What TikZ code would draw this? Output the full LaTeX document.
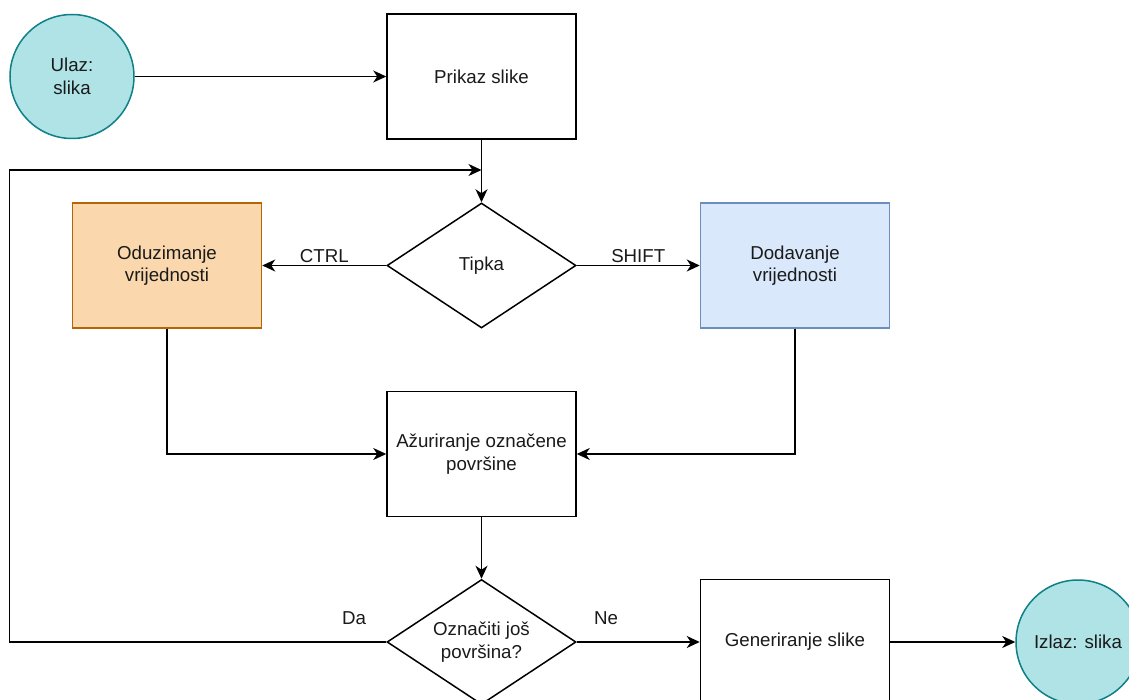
\documentclass[tikz,border=0pt]{standalone}
\usepackage{fontspec}
\setmainfont{Liberation Sans}
\usetikzlibrary{arrows.meta,shapes.geometric}
\definecolor{tealfill}{HTML}{B0E3E6}
\definecolor{tealdraw}{HTML}{0E8088}
\definecolor{orfill}{HTML}{FAD7AC}
\definecolor{ordraw}{HTML}{B46504}
\definecolor{blfill}{HTML}{DAE8FC}
\definecolor{bldraw}{HTML}{6C8EBF}
\definecolor{txt}{HTML}{1A1A1A}
\begin{document}
\begin{tikzpicture}[x=1pt,y=-1pt,line width=1.5pt,
  every node/.style={font=\fontsize{18.7}{22.5}\selectfont,text=txt},
  box/.style={draw,rectangle,minimum width=189pt,minimum height=125pt,align=center,inner sep=0pt},
  term/.style={draw=tealdraw,fill=tealfill,circle,minimum size=124pt,align=center,inner sep=0pt},
  dec/.style={draw,diamond,minimum width=189pt,minimum height=125pt,aspect=1.5,align=center,inner sep=0pt},
  arr/.style={-{Stealth[length=13pt,width=12pt,inset=4pt]}},
  lbl/.style={inner sep=0pt}]
\useasboundingbox (0,0) rectangle (1129,700);
\clip (0,0) rectangle (1129,700);
\fill[white] (0,0) rectangle (1129,700);

\node[term] (in) at (72,76.5) {Ulaz:\\slika};
\node[box] (show) at (481.5,76.5) {Prikaz slike};
\node[dec] (key) at (481.5,265.5) {Tipka};
\node[box,fill=orfill,draw=ordraw] (sub) at (167,265.5) {Oduzimanje\\vrijednosti};
\node[box,fill=blfill,draw=bldraw] (add) at (795,265.5) {Dodavanje\\vrijednosti};
\node[box] (upd) at (481.5,454) {Ažuriranje označene\\površine};
\node[dec] (more) at (481.5,642) {Označiti još\\površina?};
\node[box] (gen) at (795,642) {Generiranje slike};
\node[term] (out) at (1078,642) {Izlaz: slika};
\coordinate (join) at (481.5,170);

\draw[arr] (in) -- (show);
\draw[arr] (show) -- (key);
\draw[arr] (key) -- node[lbl,above=2pt] (lctrl) {CTRL} (sub);
\draw[arr] (key) -- node[lbl,above=2pt] (lshift) {SHIFT} (add);
\draw[arr] (sub.south) |- (upd.west);
\draw[arr] (add.south) |- (upd.east);
\draw[arr] (upd) -- (more);
\draw[arr] (more) -- (gen);
\draw[arr] (gen) -- (out);
\draw[arr] (more.west) -- ++(-377,0) |- (join);
\node[lbl,anchor=base] (lda) at (354,624.5) {Da};
\node[lbl,anchor=base] (lne) at (606,624.5) {Ne};
\end{tikzpicture}
\end{document}
